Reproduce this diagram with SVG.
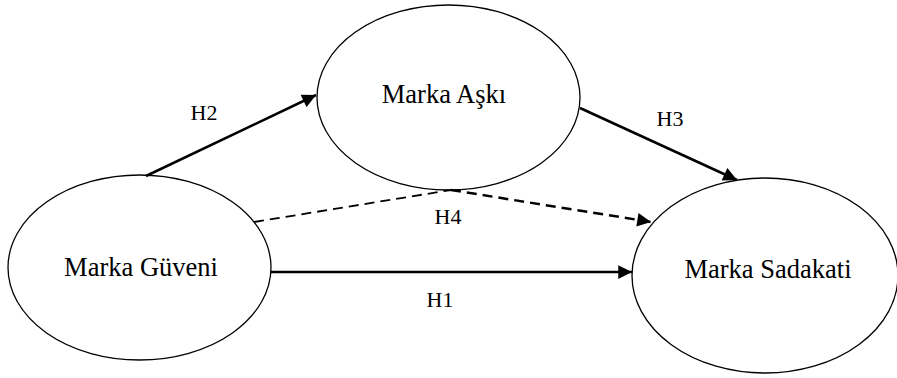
<svg xmlns="http://www.w3.org/2000/svg" width="897" height="378" viewBox="0 0 897 378">
<style>
.node ellipse{fill:#fff;stroke:#000;stroke-width:1.3}
.node text{font-size:26.5px;fill:#000;text-anchor:middle}
.lbl{font-size:22px;fill:#000;text-anchor:middle}
.edge{fill:none;stroke:#000;stroke-width:2.5}
.dash{stroke-dasharray:10,6}
</style>
<defs>
<marker id="ah" viewBox="0 0 10 10" refX="10" refY="5" markerWidth="6" markerHeight="5.5" markerUnits="strokeWidth" orient="auto">
<path d="M0,0 L10,5 L0,10 z" fill="#000"/>
</marker>
</defs>
<g font-family="'Liberation Serif', 'DejaVu Serif', serif">
<g id="n-guveni" class="node">
<ellipse cx="139.5" cy="267.5" rx="131.5" ry="92.5"/>
<text x="141" y="276">Marka Güveni</text>
</g>
<g id="n-aski" class="node">
<ellipse cx="448.5" cy="97.5" rx="131.5" ry="92.5"/>
<text x="444" y="103">Marka Aşkı</text>
</g>
<g id="n-sadakati" class="node">
<ellipse cx="765" cy="275.5" rx="133" ry="97.5"/>
<text x="768" y="278">Marka Sadakati</text>
</g>
<g id="connectors">
<line class="edge" x1="146" y1="176" x2="316" y2="95" marker-end="url(#ah)"/>
<line class="edge" x1="580" y1="108" x2="737" y2="180" marker-end="url(#ah)"/>
<line class="edge dash" x1="254" y1="222" x2="451" y2="190" style="stroke-width:1.8"/>
<line class="edge dash" x1="451" y1="190" x2="651" y2="222" marker-end="url(#ah)"/>
<line class="edge" x1="271" y1="272" x2="632" y2="272" marker-end="url(#ah)"/>
<text class="lbl" x="204" y="120">H2</text>
<text class="lbl" x="670" y="126">H3</text>
<text class="lbl" x="448" y="224">H4</text>
<text class="lbl" x="440" y="307">H1</text>
</g>
</g>
</svg>
